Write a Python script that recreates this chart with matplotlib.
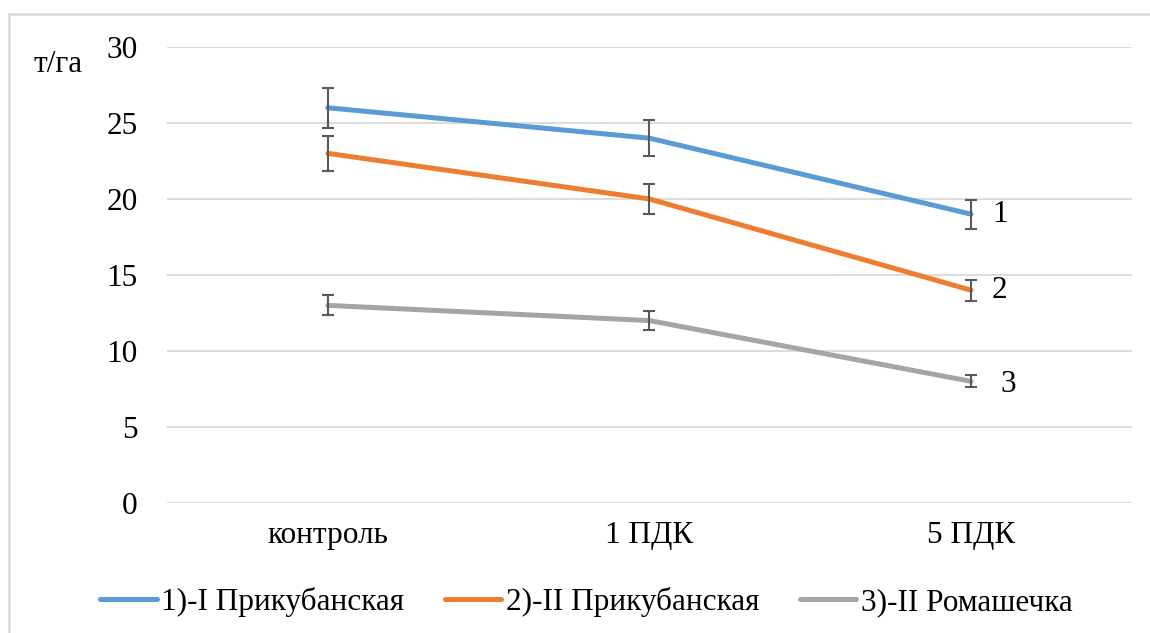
import matplotlib.pyplot as plt
from matplotlib.lines import Line2D

categories = ['контроль', '1 ПДК', '5 ПДК']
s1 = [26, 24, 19]
s2 = [23, 20, 14]
s3 = [13, 12, 8]
err1 = [1.3, 1.2, 0.95]
err2 = [1.15, 1.0, 0.7]
err3 = [0.65, 0.6, 0.4]
names = ['1)-I Прикубанская', '2)-II Прикубанская', '3)-II Ромашечка']
end_labels = ['1', '2', '3']
colors = ['#5B9BD5', '#ED7D31', '#A5A5A5']

plt.rcParams['font.family'] = ['Liberation Serif', 'DejaVu Serif']
fs = 22.5

fig = plt.figure(figsize=(11.5, 6.33), dpi=100)
ax = fig.add_axes([0.1452, 0.2054, 0.8391, 0.7204])

x = list(range(len(categories)))
for vals, errs, c, name in zip([s1, s2, s3], [err1, err2, err3], colors, names):
    ax.plot(x, vals, color=c, lw=3.6, solid_capstyle='round', label=name, zorder=3)
    ax.errorbar(x, vals, yerr=errs, fmt='none', ecolor='#595959', elinewidth=1.5,
                capsize=4.5, capthick=1.5, zorder=4)

offsets = [(0.065, 0), (0.065, 0), (0.09, -0.2)]
for vals, lab, (dx, dy) in zip([s1, s2, s3], end_labels, offsets):
    ax.text(x[-1] + dx, vals[-1] + dy, lab, fontsize=fs, va='center', ha='left')

ax.set_xlim(-0.5, 2.5)
ax.set_ylim(0, 30)
ax.set_yticks(range(0, 31, 5))
ax.set_xticks(x)
ax.set_xticklabels(categories)
ax.tick_params(axis='both', length=0, labelsize=fs)
ax.tick_params(axis='y', pad=21)
ax.tick_params(axis='x', pad=13)
ax.grid(axis='y', color='#D9D9D9', lw=1.3)
ax.set_axisbelow(True)
for sp in ax.spines.values():
    sp.set_visible(False)

fig.text(33 / 1150, 1 - 64 / 633, 'т/га', fontsize=fs, ha='left', va='center')

fig.legend(loc='center', bbox_to_anchor=(0.51, 1 - 602 / 633), ncol=3, frameon=False,
           fontsize=fs, handlelength=1.8, handletextpad=0.15, columnspacing=1.3)

# outer chart border (top and left visible)
fig.add_artist(Line2D([9 / 1150, 1.0], [1 - 14 / 633] * 2, color='#D9D9D9', lw=1.8,
                      transform=fig.transFigure))
fig.add_artist(Line2D([9 / 1150] * 2, [0, 1 - 14 / 633], color='#D9D9D9', lw=1.8,
                      transform=fig.transFigure))

fig.savefig('out.png', dpi=100)
